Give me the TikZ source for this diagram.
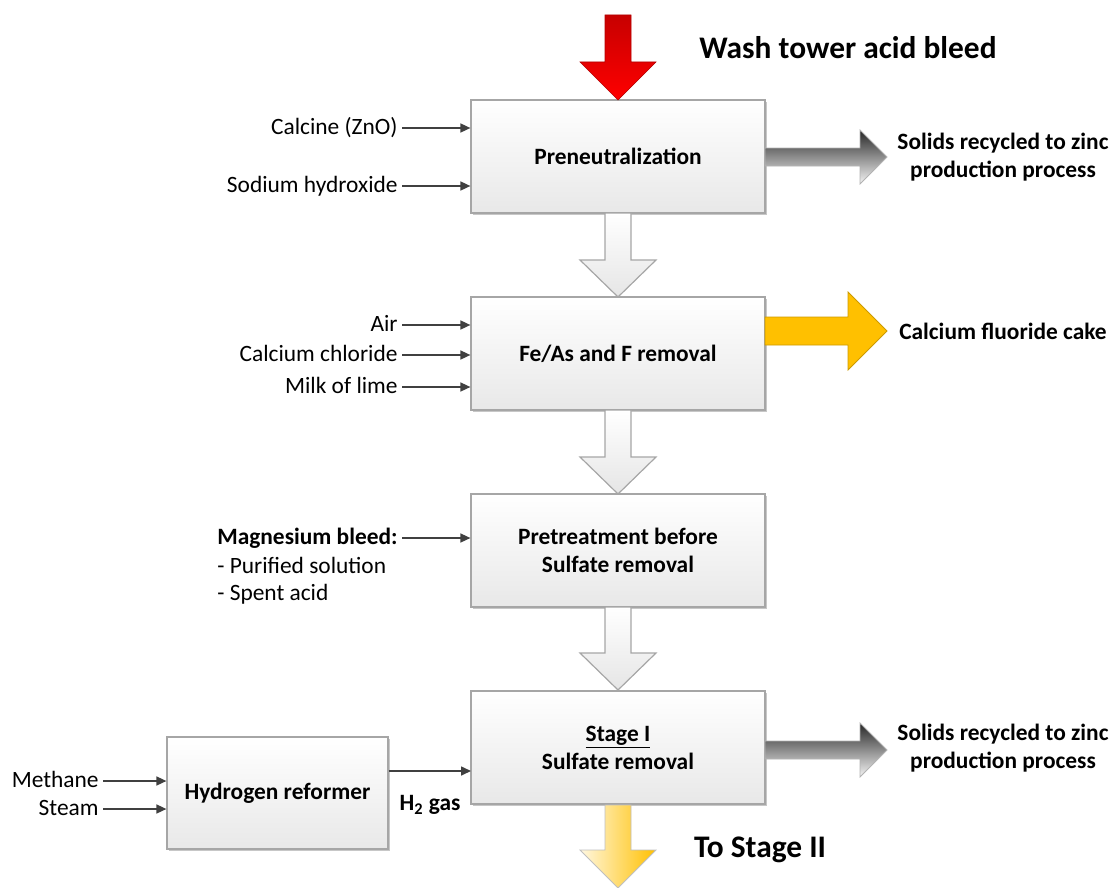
\documentclass[tikz,border=0pt]{standalone}
\usepackage{fontspec}
\setmainfont{Carlito}
\usetikzlibrary{arrows.meta,shadows,positioning}

\definecolor{amber}{HTML}{FFC000}
\definecolor{feedgray}{HTML}{404040}

\tikzset{
  block/.style={draw=black!35, line width=0.6pt, top color=white, bottom color=black!9,
    minimum width=147pt, minimum height=56.5pt, align=center,
    font=\fontsize{11.7pt}{14pt}\selectfont\bfseries,
    drop shadow={shadow xshift=1.2pt, shadow yshift=-1.2pt, opacity=.22, fill=black}},
  feedlabel/.style={inner sep=2pt, text height=8.5pt, text depth=2.5pt,
    font=\fontsize{11.7pt}{14pt}\selectfont},
  outlabel/.style={align=center, font=\fontsize{11.7pt}{14pt}\selectfont\bfseries},
  bigtitle/.style={font=\fontsize{15.7pt}{18pt}\selectfont\bfseries},
  feed/.style={draw=feedgray, line width=0.8pt, -{Triangle[length=5pt,width=4.5pt]}},
  hollow/.style={draw=black!35, line width=0.6pt, top color=white, bottom color=black!10},
  greyout/.style={draw=black!30, line width=0.4pt, top color=black!85, bottom color=black!4},
}

\begin{document}
\begin{tikzpicture}[x=0.5pt,y=-0.5pt]
   \useasboundingbox (0,0) rectangle (1113,888);

   % process blocks
   \node[block] (pren) at (618,156.5) {Preneutralization};
   \node[block] (feas) at (618,353.5) {Fe/As and F removal};
   \node[block] (pret) at (618,550.5) {Pretreatment before\\Sulfate removal};
   \node[block] (stg1) at (618,747.5) {\underline{Stage I}\\Sulfate removal};
   \node[block, minimum width=110.5pt, minimum height=56pt] (refo) at (277.5,793) {Hydrogen reformer};

   % block arrows
   \path[top color=red!78!black, bottom color=red, draw=red!70!black, line width=0.3pt]
     (605,15) -- (605,62) -- (580,62) -- (618,100) -- (656,62) -- (631,62) -- (631,15) -- cycle;
   \path[hollow] (605,213) -- (605,260) -- (580,260) -- (618,297) -- (656,260) -- (631,260) -- (631,213) -- cycle;
   \path[hollow] (605,410) -- (605,457) -- (580,457) -- (618,494) -- (656,457) -- (631,457) -- (631,410) -- cycle;
   \path[hollow] (605,607) -- (605,653) -- (580,653) -- (618,690) -- (656,653) -- (631,653) -- (631,607) -- cycle;
   \path[left color=amber!12!white, right color=amber, draw=black!25, line width=0.4pt]
     (605,805) -- (605,850) -- (580,850) -- (618,888) -- (656,850) -- (631,850) -- (631,805) -- cycle;
   \path[greyout] (765,148) -- (860,148) -- (860,130) -- (887,157) -- (860,184) -- (860,166) -- (765,166) -- cycle;
   \path[fill=amber, draw=amber!80!black, line width=0.4pt]
     (765,317) -- (848,317) -- (848,292) -- (887,331) -- (848,370) -- (848,345) -- (765,345) -- cycle;
   \path[greyout] (765,741) -- (860,741) -- (860,723) -- (887,750) -- (860,777) -- (860,759) -- (765,759) -- cycle;

   % titles and outputs
   \node[bigtitle] (wash) at (848,48) {Wash tower acid bleed};
   \node[bigtitle] (tost) at (760,850) {To Stage II};
   \node[outlabel] (sol1) at (1003,157) {Solids recycled to zinc\\production process};
   \node[outlabel] (cfca) at (1003,331) {Calcium fluoride cake};
   \node[outlabel] (sol2) at (1003,748) {Solids recycled to zinc\\production process};

   % feeds
   \node[feedlabel, anchor=east] (calc) at (402,128) {Calcine (ZnO)};
   \node[feedlabel, anchor=east] (naoh) at (402,186) {Sodium hydroxide};
   \node[feedlabel, anchor=east] (air) at (402,325) {Air};
   \node[feedlabel, anchor=east] (cacl) at (402,355) {Calcium chloride};
   \node[feedlabel, anchor=east] (lime) at (402,387) {Milk of lime};
   \node[feedlabel, anchor=east, font=\fontsize{11.7pt}{14pt}\selectfont\bfseries] (mgbl) at (402,538) {Magnesium bleed:};
   \node[feedlabel, inner ysep=1.2pt, anchor=north west] (mgps) at (mgbl.south west) {- Purified solution};
   \node[feedlabel, inner ysep=1.2pt, anchor=north west] (mgsa) at (mgps.south west) {- Spent acid};
   \node[feedlabel, anchor=east] (meth) at (103,781) {Methane};
   \node[feedlabel, anchor=east] (stea) at (103,809) {Steam};
   \node[outlabel] (htwo) at (430,805) {H\textsubscript{2} gas};
   \coordinate (h2in) at (471,771);

   \draw[feed] (calc.east) -- (calc.east -| pren.west);
   \draw[feed] (naoh.east) -- (naoh.east -| pren.west);
   \draw[feed] (air.east) -- (air.east -| feas.west);
   \draw[feed] (cacl.east) -- (cacl.east -| feas.west);
   \draw[feed] (lime.east) -- (lime.east -| feas.west);
   \draw[feed] (mgbl.east) -- (mgbl.east -| pret.west);
   \draw[feed] (meth.east) -- (meth.east -| refo.west);
   \draw[feed] (stea.east) -- (stea.east -| refo.west);
   \draw[feed] (refo.east |- h2in) -- (h2in);

\end{tikzpicture}
\end{document}
